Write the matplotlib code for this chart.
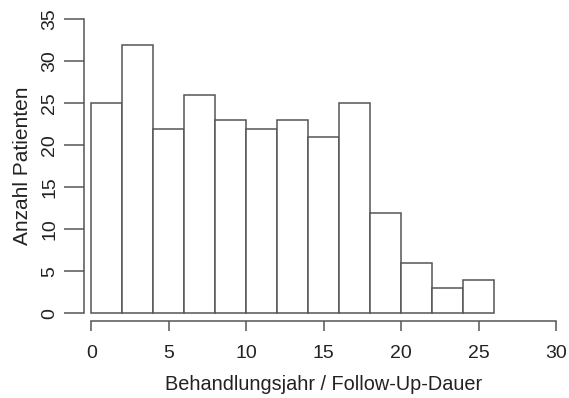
import matplotlib
matplotlib.use("Agg")
import matplotlib.pyplot as plt
import numpy as np

# Data
bin_edges = [0, 2, 4, 6, 8, 10, 12, 14, 16, 18, 20, 22, 24, 26]
counts = [25, 32, 22, 26, 23, 22, 23, 21, 25, 12, 6, 3, 4]
x_ticks = [0, 5, 10, 15, 20, 25, 30]
y_ticks = [0, 5, 10, 15, 20, 25, 30, 35]
x_label = "Behandlungsjahr / Follow-Up-Dauer"
y_label = "Anzahl Patienten"

plt.rcParams['font.family'] = ['Liberation Sans', 'DejaVu Sans']
W, H = 569, 398
fig = plt.figure(figsize=(W / 100, H / 100), dpi=100)

left_px, bottom_px, right_px, top_px = 84, 321, 564, 11
ax = fig.add_axes([left_px / W, 1 - bottom_px / H,
                   (right_px - left_px) / W, (bottom_px - top_px) / H])

edge = "#555555"
text_c = "#222222"
lefts = np.array(bin_edges[:-1])
widths = np.diff(bin_edges)
ax.bar(lefts, counts, width=widths, align='edge', facecolor='white',
       edgecolor=edge, linewidth=1.1)

ax.set_xlim(-0.47, 30.5)
ax.set_ylim(-0.92, 36.0)

for s in ['top', 'right']:
    ax.spines[s].set_visible(False)
ax.spines['left'].set_bounds(0, 35)
ax.spines['bottom'].set_bounds(0, 30)
for s in ['left', 'bottom']:
    ax.spines[s].set_color(edge)
    ax.spines[s].set_linewidth(1.1)

ax.set_xticks(x_ticks)
ax.set_yticks(y_ticks)
ax.tick_params(axis='x', length=7.5, width=1.1, color=edge, labelsize=14,
               labelcolor=text_c, pad=10)
ax.tick_params(axis='y', length=14.5, width=1.1, color=edge, labelsize=14,
               labelcolor=text_c, pad=4)
for lbl in ax.get_yticklabels():
    lbl.set_rotation(90)
    lbl.set_va('center')

ax.set_xlabel(x_label, fontsize=14.3, color=text_c, labelpad=9.5)
ax.set_ylabel(y_label, fontsize=15, color=text_c, labelpad=7)

fig.savefig("out.png", dpi=100)
